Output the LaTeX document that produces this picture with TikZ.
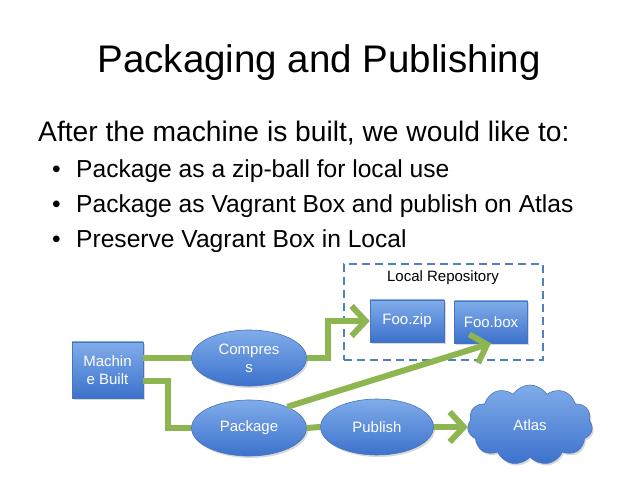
\documentclass[tikz,border=0pt]{standalone}
\usepackage{fontspec}
\setmainfont{Liberation Sans}
\usepackage{tikz}
\usepackage{xcolor}
\usetikzlibrary{arrows.meta,positioning,shapes.geometric,shapes.symbols,shadows}
\definecolor{SlideBoxTop}{RGB}{128,172,234}
\definecolor{SlideBoxBottom}{RGB}{60,114,204}
\definecolor{SlideBoxBorder}{RGB}{72,116,190}
\definecolor{SlideFlow}{RGB}{141,182,80}
\definecolor{SlideRepo}{RGB}{79,129,189}

\begin{document}
\begin{tikzpicture}[x=1pt,y=-1pt,
    flowbox/.style={rectangle,draw=SlideBoxBorder,line width=0.6pt,
        top color=SlideBoxTop,bottom color=SlideBoxBottom,text=white,
        font=\fontsize{15}{18}\selectfont,align=center,inner sep=0pt,
        drop shadow={opacity=0.3,shadow xshift=1.5pt,shadow yshift=-2pt}},
    flowstep/.style={flowbox,ellipse,minimum width=115pt,minimum height=56pt},
    flowline/.style={SlideFlow,line width=6pt,line join=miter},
    flowarrow/.style={flowline,-{Straight Barb[length=14pt,width=30pt]}},
    itemtext/.style={anchor=base west,inner sep=0pt,font=\fontsize{24.6}{30}\selectfont}
]
\path[fill=white] (0,0) rectangle (638,478);
\useasboundingbox (0,0) rectangle (638,478);

\node[anchor=base,inner sep=0pt] (title) at (319,73) {\fontsize{38.5}{46}\selectfont Packaging and Publishing};
\node[anchor=base west,inner sep=0pt] (intro) at (38,142) {\fontsize{28.2}{34}\selectfont After the machine is built, we would like to:};
\node[itemtext] (itemzip) at (76,178) {Package as a zip-ball for local use};
\node[itemtext] (itembox) at (76,213) {Package as Vagrant Box and publish on Atlas};
\node[itemtext] (itemkeep) at (76,248) {Preserve Vagrant Box in Local};
\node[itemtext] (dotzip) at (52,178) {\textbullet};
\node[itemtext] (dotbox) at (52,213) {\textbullet};
\node[itemtext] (dotkeep) at (52,248) {\textbullet};

\node[draw=SlideRepo,line width=1.3pt,dash pattern=on 8pt off 5pt,
    minimum width=199pt,minimum height=96pt] (repo) at (443.5,312) {};
\node[font=\fontsize{15}{18}\selectfont] (repolabel) at (443,278) {Local Repository};
\node[flowbox,minimum width=74pt,minimum height=42pt] (foozip) at (407,321) {Foo.zip};
\node[flowbox,minimum width=73pt,minimum height=42pt] (foobox) at (491,322) {Foo.box};

\node[flowbox,minimum width=71pt,minimum height=56pt] (machine) at (107.5,370) {Machin\\e Built};
\node[flowstep] (compress) at (249,358) {Compres\\s};
\node[flowstep] (package) at (249,428) {Package};
\node[flowstep,minimum width=113pt] (publish) at (377,427) {Publish};
\node[flowbox,cloud,cloud puffs=11,cloud puff arc=115,aspect=1.6,
    minimum width=125pt,minimum height=80pt] (atlas) at (530,425) {Atlas};

\draw[flowline] (machine.east |- compress.west) -- (compress.west);
\draw[flowline] ([yshift=-11pt]machine.east) -- ++(25,0) |- (package.west);
\draw[flowarrow] (compress.east) -- ++(21,0) |- (foozip.west);
\draw[flowarrow] (package.29) -- (foobox.south);
\draw[flowline] (package.east) -- (publish.west);
\draw[flowarrow] (publish.east) -- (publish.east -| atlas.west);
\end{tikzpicture}
\end{document}
